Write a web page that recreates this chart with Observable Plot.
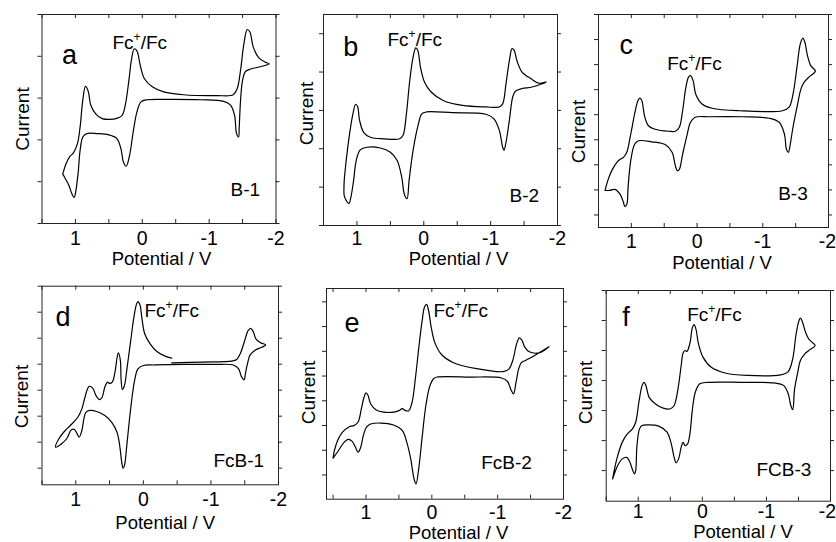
<!DOCTYPE html>
<html><head><meta charset="utf-8">
<script src="https://cdn.jsdelivr.net/npm/d3@7"></script>
<script src="https://cdn.jsdelivr.net/npm/@observablehq/plot@0.6"></script>
<style>
body{margin:0;background:#fff}
#chart{position:relative;width:836px;height:542px;overflow:hidden;background:#fff}
#chart svg{position:absolute;left:0;top:0}
</style></head><body><div id="chart"></div>
<script>
// ---- text ----
const panelLetters = ["a", "b", "c", "d", "e", "f"];
const sampleNames = ["B-1", "B-2", "B-3", "FcB-1", "FcB-2", "FCB-3"];
const coupleLabel = "Fc+/Fc";
const xTitle = "Potential / V";
const yTitle = "Current";
const xTickLabels = [1, 0, -1, -2];
const xTickMarks = [1.5, 1, 0.5, 0, -0.5, -1, -1.5, -2];

// ---- cyclic voltammograms: [potential (V), current (arb. units)] ----
const cvA = [[1.19,1.18],[1.14,1.43],[1.08,1.61],[1.03,1.69],[0.97,1.91],[0.93,2.31],[0.89,2.95],[0.85,3.28],[0.81,3.17],[0.77,2.83],[0.69,2.61],[0.60,2.51],[0.50,2.49],[0.37,2.52],[0.30,2.59],[0.25,2.87],[0.20,3.43],[0.16,3.94],[0.12,4.18],[0.08,4.13],[0.03,3.78],[-0.03,3.47],[-0.15,3.27],[-0.32,3.15],[-0.62,3.08],[-1.12,3.06],[-1.36,3.08],[-1.42,3.23],[-1.47,3.67],[-1.52,4.30],[-1.57,4.64],[-1.61,4.58],[-1.66,4.22],[-1.74,3.97],[-1.84,3.86],[-1.90,3.82],
 [-1.76,3.75],[-1.61,3.69],[-1.54,3.63],[-1.50,3.43],[-1.47,2.95],[-1.45,2.31],[-1.44,2.07],[-1.41,2.15],[-1.38,2.59],[-1.32,2.83],[-1.22,2.92],[-0.87,2.96],[-0.37,2.97],[-0.07,2.96],[0.02,2.91],[0.08,2.67],[0.14,2.15],[0.19,1.63],[0.24,1.37],[0.28,1.46],[0.32,1.79],[0.38,2.03],[0.50,2.12],[0.67,2.15],[0.83,2.15],[0.89,2.07],[0.93,1.75],[0.96,1.20],[1.00,0.72],[1.02,0.62],[1.05,0.70],[1.10,0.92],[1.16,1.10],[1.19,1.18]];
const cvB = [[1.195,0.90],[1.19,1.17],[1.16,1.70],[1.11,2.39],[1.06,2.91],[1.02,3.16],[0.99,3.10],[0.96,2.74],[0.90,2.43],[0.80,2.30],[0.60,2.26],[0.36,2.26],[0.31,2.35],[0.26,2.91],[0.21,3.78],[0.16,4.39],[0.12,4.63],[0.09,4.57],[0.05,4.13],[-0.01,3.74],[-0.11,3.48],[-0.29,3.26],[-0.58,3.13],[-0.93,3.09],[-1.13,3.09],[-1.18,3.17],[-1.23,3.70],[-1.28,4.30],[-1.32,4.61],[-1.35,4.57],[-1.40,4.26],[-1.47,4.00],[-1.60,3.83],[-1.72,3.71],[-1.83,3.74],
 [-1.62,3.61],[-1.47,3.57],[-1.37,3.50],[-1.33,3.35],[-1.28,2.74],[-1.23,2.17],[-1.20,1.96],[-1.18,2.04],[-1.13,2.48],[-1.05,2.78],[-0.93,2.90],[-0.43,2.94],[-0.04,2.96],[0.03,2.91],[0.08,2.65],[0.16,1.96],[0.22,1.17],[0.25,0.70],[0.29,0.81],[0.33,1.26],[0.40,1.70],[0.50,1.91],[0.65,2.02],[0.85,2.04],[0.95,1.97],[1.01,1.70],[1.05,1.17],[1.09,0.74],[1.12,0.57],[1.16,0.65],[1.19,0.78],[1.195,0.90]];
const cvC = [[1.40,0.49],[1.36,0.68],[1.30,0.88],[1.22,1.05],[1.17,1.11],[1.12,1.15],[1.07,1.25],[1.01,1.61],[0.94,2.08],[0.90,2.28],[0.87,2.33],[0.84,2.28],[0.80,1.98],[0.74,1.78],[0.64,1.71],[0.43,1.67],[0.33,1.67],[0.27,1.75],[0.22,2.08],[0.17,2.55],[0.13,2.75],[0.10,2.78],[0.06,2.68],[0.02,2.41],[-0.08,2.21],[-0.23,2.13],[-0.64,2.08],[-1.30,2.08],[-1.40,2.15],[-1.46,2.41],[-1.52,2.95],[-1.57,3.41],[-1.61,3.53],[-1.64,3.45],[-1.68,3.18],[-1.73,2.98],[-1.80,2.87],
 [-1.71,2.76],[-1.63,2.65],[-1.58,2.51],[-1.53,2.21],[-1.46,1.75],[-1.41,1.35],[-1.39,1.25],[-1.36,1.31],[-1.33,1.61],[-1.25,1.85],[-1.10,1.93],[-0.69,1.96],[-0.18,1.96],[0.03,1.95],[0.10,1.85],[0.15,1.61],[0.22,1.21],[0.27,0.91],[0.30,0.88],[0.33,0.98],[0.38,1.25],[0.48,1.40],[0.69,1.46],[0.89,1.48],[0.95,1.41],[1.01,1.08],[1.05,0.55],[1.07,0.21],[1.10,0.17],[1.12,0.25],[1.17,0.41],[1.25,0.51],[1.33,0.49],[1.40,0.49]];
const cvD = [[-0.42,4.05],[-0.86,4.08],[-1.31,4.12],[-1.38,4.18],[-1.44,4.44],[-1.50,4.91],[-1.55,5.29],[-1.59,5.38],[-1.63,5.23],[-1.67,4.95],[-1.74,4.82],[-1.81,4.74],
 [-1.75,4.65],[-1.65,4.53],[-1.58,4.36],[-1.54,4.01],[-1.51,3.63],[-1.49,3.40],[-1.45,3.53],[-1.41,3.82],[-1.33,3.97],[-1.06,3.99],[-0.62,3.99],[-0.17,3.97],[0.00,3.95],[0.08,3.82],[0.13,3.37],[0.17,2.67],[0.21,1.77],[0.25,0.74],[0.28,0.10],[0.30,0.00],[0.32,0.23],[0.35,0.87],[0.39,1.38],[0.47,1.77],[0.57,2.03],[0.69,2.18],[0.79,2.22],[0.85,2.15],[0.88,1.90],[0.91,1.45],[0.95,1.19],[0.98,1.32],[1.02,1.49],[1.06,1.49],[1.09,1.38],[1.13,1.15],[1.21,0.94],[1.30,0.81],
 [1.25,1.13],[1.17,1.41],[1.07,1.67],[0.97,1.96],[0.91,2.28],[0.87,2.67],[0.83,3.03],[0.80,3.15],[0.75,3.08],[0.70,2.79],[0.65,2.64],[0.61,2.73],[0.57,3.12],[0.53,3.31],[0.50,3.26],[0.46,3.31],[0.42,3.69],[0.39,4.23],[0.37,4.44],[0.34,4.14],[0.33,3.44],[0.31,3.03],[0.28,3.18],[0.24,3.88],[0.19,4.85],[0.14,5.81],[0.10,6.32],[0.08,6.41],[0.05,6.28],[0.02,5.74],[-0.02,5.17],[-0.10,4.78],[-0.20,4.49],[-0.32,4.31],[-0.42,4.23]];
const cvE = [[1.50,0.34],[1.48,0.49],[1.43,0.70],[1.36,0.86],[1.26,0.97],[1.18,1.00],[1.12,1.07],[1.07,1.34],[1.03,1.57],[1.00,1.66],[0.97,1.61],[0.93,1.44],[0.85,1.32],[0.73,1.27],[0.58,1.27],[0.50,1.30],[0.45,1.34],[0.40,1.30],[0.35,1.30],[0.30,1.47],[0.25,1.95],[0.20,2.55],[0.15,3.09],[0.11,3.40],[0.08,3.45],[0.05,3.33],[0.01,2.99],[-0.05,2.66],[-0.15,2.43],[-0.33,2.27],[-0.68,2.15],[-1.08,2.09],[-1.17,2.14],[-1.23,2.32],[-1.29,2.66],[-1.33,2.77],[-1.37,2.72],[-1.41,2.59],[-1.48,2.49],[-1.63,2.47],[-1.78,2.59],
 [-1.58,2.43],[-1.43,2.32],[-1.36,2.27],[-1.32,2.15],[-1.28,1.88],[-1.24,1.64],[-1.20,1.73],[-1.15,1.89],[-1.06,1.96],[-0.58,1.98],[-0.08,1.98],[-0.03,1.95],[0.03,1.80],[0.09,1.41],[0.15,0.73],[0.20,0.12],[0.24,-0.18],[0.27,-0.08],[0.32,0.32],[0.38,0.66],[0.45,0.90],[0.58,1.01],[0.78,1.05],[0.93,1.03],[0.99,0.97],[1.04,0.80],[1.08,0.56],[1.12,0.46],[1.16,0.56],[1.21,0.68],[1.27,0.72],[1.34,0.65],[1.42,0.49],[1.50,0.34]];
const cvF = [[1.40,-0.28],[1.37,0.06],[1.32,0.50],[1.25,0.94],[1.17,1.22],[1.09,1.39],[1.04,1.61],[0.99,2.28],[0.94,2.83],[0.91,2.94],[0.88,2.83],[0.83,2.44],[0.73,2.22],[0.61,2.08],[0.50,2.06],[0.44,2.17],[0.38,2.72],[0.33,3.50],[0.30,3.92],[0.27,4.00],[0.24,3.97],[0.19,4.28],[0.16,4.72],[0.13,4.86],[0.10,4.72],[0.06,4.22],[-0.01,3.78],[-0.14,3.44],[-0.34,3.26],[-0.70,3.17],[-1.22,3.19],[-1.34,3.30],[-1.41,3.72],[-1.46,4.50],[-1.50,4.94],[-1.53,5.08],[-1.56,4.97],[-1.61,4.61],[-1.66,4.39],[-1.71,4.28],[-1.76,4.17],
 [-1.68,4.03],[-1.60,3.89],[-1.53,3.67],[-1.49,3.28],[-1.44,2.72],[-1.41,2.03],[-1.38,2.17],[-1.34,2.56],[-1.27,2.83],[-1.11,2.92],[-0.60,2.94],[-0.09,2.94],[0.04,2.89],[0.11,2.61],[0.16,1.94],[0.19,1.28],[0.23,0.89],[0.27,0.83],[0.30,0.94],[0.33,0.78],[0.37,0.39],[0.41,0.26],[0.44,0.44],[0.49,0.94],[0.55,1.28],[0.68,1.48],[0.84,1.52],[0.94,1.50],[0.98,1.39],[1.02,0.83],[1.04,0.00],[1.06,-0.11],[1.09,0.03],[1.13,0.28],[1.18,0.44],[1.25,0.39],[1.32,0.17],[1.40,-0.28]];
const cvSeries = [cvA, cvB, cvC, cvD, cvE, cvF];

// ---- layout (page pixels / offsets, not data) ----
const layout = [
  {frame:[41.5,14,275.5,223],   x:[1.5,-2], y:[0,5],       yt:[0,1,2,3,4,5],                letter:[20,49],   couple:[70.5,34.3], sample:[188.5,181], ytitle:[-19,104.5], xtitle:[119.5,250], tick:21,   edge:0},
  {frame:[323,14,557,225],      x:[1.5,-2], y:[0,5.5],     yt:[0,1,2,3,4,5],                letter:[19.7,41], couple:[64,31],     sample:[186,187.7], ytitle:[-16.3,99],  xtitle:[135,250],   tick:19.5, edge:0},
  {frame:[598,14,828,227],      x:[1.5,-2], y:[-0.25,4],   yt:[0,0.5,1,1.5,2,2.5,3,3.5,4],  letter:[21,39.3], couple:[68.7,55.3], sample:[179.7,185], ytitle:[-19.5,117], xtitle:[123.5,254.5],tick:20.3, edge:-1},
  {frame:[41.5,285.7,278,484.3],x:[1.5,-2], y:[-0.64,7],   yt:[0,1,2,3,4,5,6,7],            letter:[13.5,39.3],couple:[102.5,31], sample:[171.5,181], ytitle:[-19.8,110.3],xtitle:[123.2,242.5],tick:21.4, edge:0},
  {frame:[326,288,563,498.7],   x:[1.6,-2], y:[-0.49,3.77],yt:[0,0.5,1,1.5,2,2.5,3,3.5],    letter:[18,43],   couple:[107,28.7],  sample:[154.7,180.3],ytitle:[-18,104],  xtitle:[132,250],   tick:19.8, edge:0},
  {frame:[605.7,290,830,500.7], x:[1.5,-2], y:[-1.02,6],   yt:[0,1,2,3,4,5,6],              letter:[16,35],   couple:[81,30],     sample:[150.3,185], ytitle:[-20.2,102], xtitle:[136.8,247.7], tick:16.8, edge:-3}
];

const W = 836, H = 542;
const FONT = '"Liberation Sans", Arial, Helvetica, sans-serif';
const chart = document.getElementById("chart");

layout.forEach((p, k) => {
  const [L, T, R, B] = p.frame;
  const fw = R - L, fh = B - T;
  const rows = cvSeries[k].map(([v, i]) => ({v, i}));
  const lo = Math.min(...p.x), hi = Math.max(...p.x);
  const xt = xTickMarks.filter(d => d >= lo - 1e-9 && d <= hi + 1e-9);
  const inner = xTickLabels.slice(0, -1), last = xTickLabels.slice(-1);
  const base = {fill: "black", frameAnchor: "top-left", lineAnchor: "bottom", textAnchor: "start"};
  const tickText = {x: d => d, text: d => String(d), frameAnchor: "bottom", dy: p.tick, lineAnchor: "bottom", textAnchor: "middle", fontSize: 19.5, fill: "black"};
  const svg = Plot.plot({
    width: W, height: H,
    marginLeft: L, marginTop: T, marginRight: W - R, marginBottom: H - B,
    x: {domain: p.x, axis: null},
    y: {domain: p.y, axis: null},
    style: {background: "transparent", fontFamily: FONT, overflow: "visible"},
    marks: [
      Plot.line(rows, {x: "v", y: "i", curve: "catmull-rom", stroke: "black", strokeWidth: 1.2}),
      Plot.frame({stroke: "#222", strokeWidth: 1}),
      Plot.tickX(xt, {x: d => d, insetTop: fh - 4, stroke: "#222"}),
      Plot.tickX(xt, {x: d => d, insetBottom: fh - 4, stroke: "#222"}),
      Plot.tickY(p.yt, {y: d => d, insetLeft: -4, insetRight: fw, stroke: "#222"}),
      Plot.tickY(p.yt, {y: d => d, insetLeft: fw, insetRight: -4, stroke: "#222"}),
      Plot.text(inner, tickText),
      Plot.text(last, {...tickText, dx: p.edge}),
      Plot.text([panelLetters[k]], {...base, text: d => d, dx: p.letter[0], dy: p.letter[1], fontSize: 27}),
      Plot.text([coupleLabel], {...base, text: d => d, dx: p.couple[0], dy: p.couple[1], fontSize: 19}),
      Plot.text([sampleNames[k]], {...base, text: d => d, dx: p.sample[0], dy: p.sample[1], fontSize: 19}),
      Plot.text([xTitle], {...base, text: d => d, dx: p.xtitle[0], dy: p.xtitle[1], textAnchor: "middle", fontSize: 18.5}),
      Plot.text([yTitle], {fill: "black", frameAnchor: "top-left", text: d => d, dx: p.ytitle[0], dy: p.ytitle[1], rotate: -90, textAnchor: "middle", lineAnchor: "middle", fontSize: 19})
    ]
  });
  // superscript "+" in Fc+/Fc
  svg.querySelectorAll("text").forEach(t => {
    if (t.textContent === coupleLabel && t.children.length === 0) {
      t.textContent = "";
      const ns = "http://www.w3.org/2000/svg";
      t.appendChild(document.createTextNode("Fc"));
      const sup = document.createElementNS(ns, "tspan");
      sup.setAttribute("font-size", "12");
      sup.setAttribute("dy", "-8");
      sup.textContent = "+";
      t.appendChild(sup);
      const rest = document.createElementNS(ns, "tspan");
      rest.setAttribute("dy", "8");
      rest.textContent = "/Fc";
      t.appendChild(rest);
    }
  });
  chart.appendChild(svg);
});
</script></body></html>
